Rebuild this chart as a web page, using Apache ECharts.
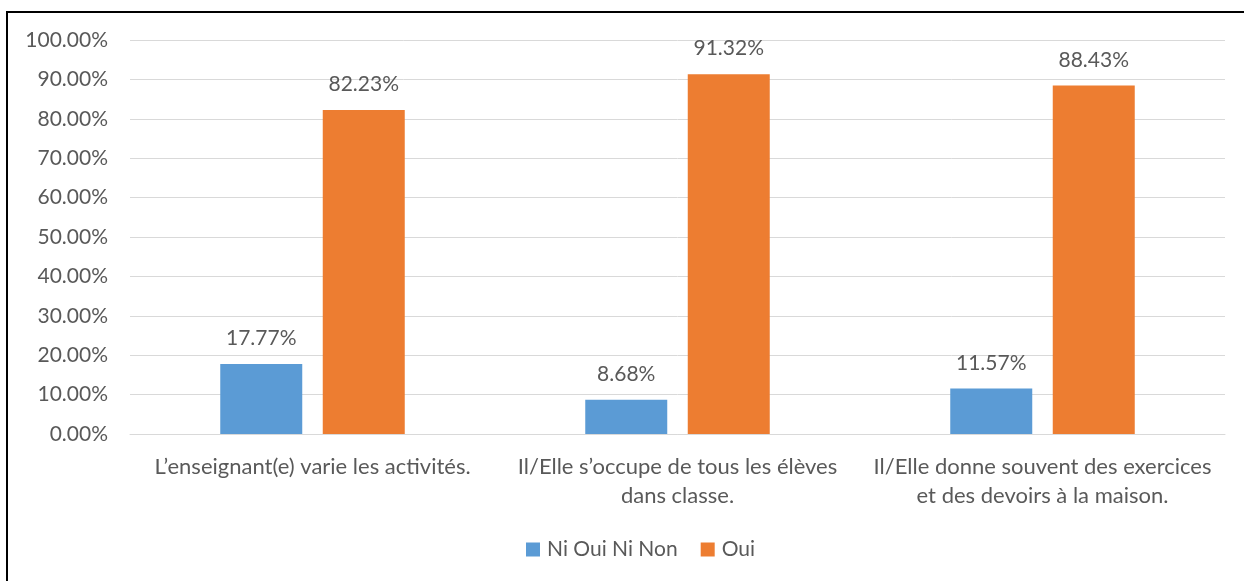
<!DOCTYPE html>
<html>
<head>
<meta charset="utf-8">
<script src="https://cdn.jsdelivr.net/npm/echarts@6/dist/echarts.min.js"></script>
<style>
  html, body { margin: 0; padding: 0; background: #fff; }
  #frame {
    position: absolute; left: 6px; top: 11px; width: 1238px; height: 570px;
    border-left: 2px solid #000; border-top: 2px solid #000; box-sizing: border-box;
  }
  #chart { position: absolute; left: 0; top: 0; width: 1244px; height: 581px; }
</style>
</head>
<body>
<div id="frame"></div>
<div id="chart"></div>
<script>
// categories and values (percent)
const categories = [
  'L\u2019enseignant(e) varie les activités.',
  'Il/Elle s\u2019occupe de tous les élèves\ndans classe.',
  'Il/Elle donne souvent des exercices\net des devoirs à la maison.'
]
const niOuiNiNon = [17.77, 8.68, 11.57]
const oui = [82.23, 91.32, 88.43]

const fontFamily = 'Lato, "Open Sans", sans-serif'
const textColor = '#595959'

const chart = echarts.init(document.getElementById('chart'))

const labelStyle = {
  show: true,
  position: 'top',
  distance: 15,
  color: textColor,
  fontSize: 21,
  fontFamily,
  formatter: p => p.value.toFixed(2) + '%'
}

const option = {
  animation: false,
  grid: { left: 130, right: 19, top: 40, bottom: 147 },
  legend: {
    top: 534,
    left: 521,
    itemWidth: 14,
    itemHeight: 14,
    itemGap: 23,
    icon: 'rect',
    textStyle: { color: textColor, fontSize: 21, fontFamily, padding: [0, 0, 0, 2] }
  },
  xAxis: {
    type: 'category',
    data: categories,
    axisLine: { lineStyle: { color: '#d9d9d9', width: 1 } },
    axisTick: { show: false },
    axisLabel: {
      interval: 0,
      margin: 18,
      color: textColor,
      fontSize: 22,
      lineHeight: 29,
      fontFamily
    }
  },
  yAxis: {
    type: 'value',
    min: 0,
    max: 100,
    interval: 10,
    axisLine: { show: false },
    axisTick: { show: false },
    splitLine: { lineStyle: { color: '#d9d9d9' } },
    axisLabel: {
      margin: 22,
      color: textColor,
      fontSize: 21,
      fontFamily,
      formatter: v => v.toFixed(2) + '%'
    }
  },
  series: [
    {
      name: 'Ni Oui Ni Non',
      type: 'bar',
      data: niOuiNiNon,
      barWidth: 82,
      barGap: '25%',
      itemStyle: { color: '#5b9bd5' },
      label: labelStyle
    },
    {
      name: 'Oui',
      type: 'bar',
      data: oui,
      barWidth: 82,
      itemStyle: { color: '#ed7d31' },
      label: labelStyle
    }
  ]
}

chart.setOption(option)
</script>
</body>
</html>
